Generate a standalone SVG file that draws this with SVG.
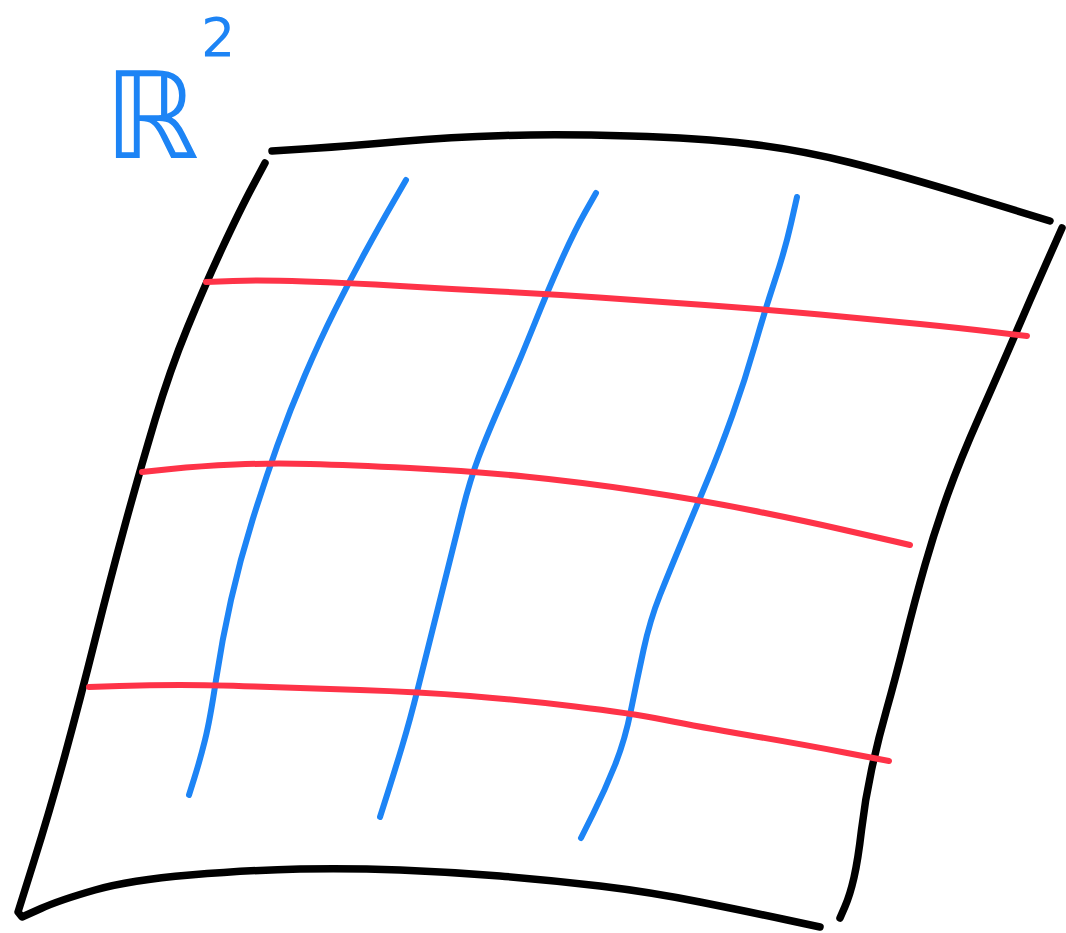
<svg xmlns="http://www.w3.org/2000/svg" width="1066" height="933" viewBox="0 0 1066 933">
<style>
.k{fill:none;stroke:#000;stroke-width:7.5;stroke-linecap:round;stroke-linejoin:round}
.b{fill:none;stroke:#1d84f5;stroke-width:6;stroke-linecap:round;stroke-linejoin:round}
.r{fill:none;stroke:#fe3348;stroke-width:6;stroke-linecap:round;stroke-linejoin:round}
.t{fill:#1d84f5;font-family:"DejaVu Sans",sans-serif}
</style>
<rect width="1066" height="933" fill="#fff"/>
<g id="label">
<text class="t" x="104" y="158" font-size="120">ℝ<tspan font-size="54" dx="2" dy="-102">2</tspan></text>
</g>
<g id="sheet">
<path class="k" d="M272,151 L311,148.5 Q350,146 400,141.5 Q450,137 505,135.5 Q560,134 630,136 Q700,138 750,144 Q800,150 850,162.5 Q900,175 975,198 L1050,221"/>
<path class="k" d="M265,163 L252.5,186.5 Q240,210 222.5,247.5 Q205,285 187.5,327.5 Q170,370 155,420 Q140,470 125,525 Q110,580 95,640 Q80,700 65,755 Q50,810 34,861 L18,912 L22,917 L41,908.5 Q60,900 95,890 Q130,880 190,875 Q250,870 300,869 Q350,868 400,870 Q450,872 500,876 Q550,880 600,886 Q650,892 700,902 Q750,912 785,919.5 L820,927"/>
<path class="k" d="M1062,228 L1046,264 Q1030,300 1015,335 Q1000,370 980,415 Q960,460 947.5,495 Q935,530 925,565 Q915,600 905,640 Q895,680 886.5,710 Q878,740 871.5,770 Q865,800 861.5,830 Q858,860 854,877.5 Q850,895 845,906.5 L840,918"/>
</g>
<g id="connectors">
<path class="b" d="M406,180 L393,202.5 Q380,225 365,252.5 Q350,280 335,310 Q320,340 305,375 Q290,410 277.5,445 Q265,480 252.5,520 Q240,560 231,600 Q222,640 216,680 Q210,720 205,740 Q200,760 194.5,777.5 L189,795"/>
<path class="b" d="M596,193 L585.5,211.5 Q575,230 561.5,260 Q548,290 534,325 Q520,360 503.5,397.5 Q487,435 478.5,457.5 Q470,480 462.5,510 Q455,540 447.5,570 Q440,600 432.5,630 Q425,660 417.5,690 Q410,720 402.5,745 Q395,770 387.5,793.5 L380,817"/>
<path class="b" d="M797,197 L791,223.5 Q785,250 775,280 Q765,310 755,345 Q745,380 732.5,415 Q720,450 707.5,480 Q695,510 682.5,540 Q670,570 660,595 Q650,620 643.5,650 Q637,680 631,710 Q625,740 615,765 Q605,790 593,814 L581,838"/>
<path class="r" d="M206,282 L233,281 Q260,280 305,281.5 Q350,283 400,286 Q450,289 499,291.5 Q548,294 599,297.5 Q650,301 705,305 Q760,309 820,314.5 Q880,320 920,324 Q960,328 993.5,332 L1027,336"/>
<path class="r" d="M142,472 L171,469 Q200,466 235,464.5 Q270,463 310,464 Q350,465 410,468 Q470,471 525,476.5 Q580,482 640,491 Q700,500 750,510 Q800,520 840,529 Q880,538 895,541.5 L910,545"/>
<path class="r" d="M89,687 L119.5,686 Q150,685 180,685 Q210,685 255,686.5 Q300,688 360,690 Q420,692 470,696 Q520,700 575,706.5 Q630,713 665,720 Q700,727 750,735.5 Q800,744 844.5,752.5 L889,761"/>
</g>
</svg>
